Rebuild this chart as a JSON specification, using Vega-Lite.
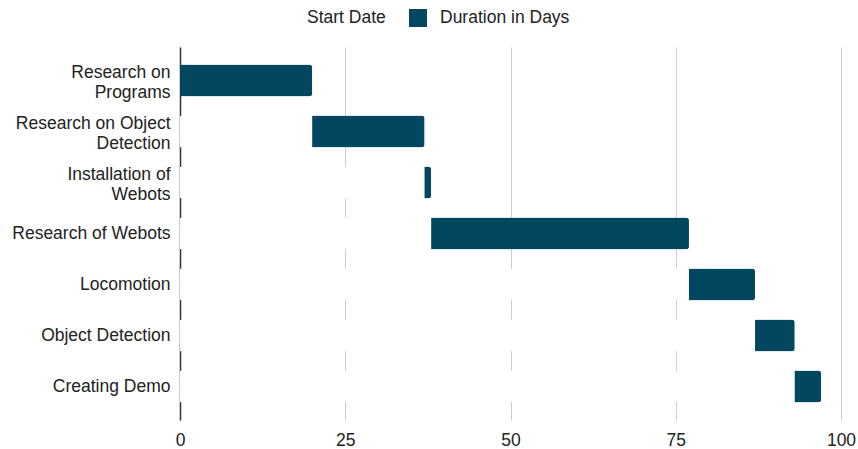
{
  "$schema": "https://vega.github.io/schema/vega-lite/v6.json",
  "autosize": {"type": "none"},
  "width": 661,
  "height": 373,
  "padding": {"left": 180, "top": 47, "right": 17, "bottom": 29},
  "background": "#ffffff",
  "config": {
    "font": "Liberation Sans",
    "view": {"stroke": null}
  },
  "data": {
    "values": [
      {"task": "Research on|Programs", "series": "Start Date", "k": 0, "days": 0},
      {"task": "Research on|Programs", "series": "Duration in Days", "k": 1, "days": 20},
      {"task": "Research on Object|Detection", "series": "Start Date", "k": 0, "days": 20},
      {"task": "Research on Object|Detection", "series": "Duration in Days", "k": 1, "days": 17},
      {"task": "Installation of|Webots", "series": "Start Date", "k": 0, "days": 37},
      {"task": "Installation of|Webots", "series": "Duration in Days", "k": 1, "days": 1},
      {"task": "Research of Webots", "series": "Start Date", "k": 0, "days": 38},
      {"task": "Research of Webots", "series": "Duration in Days", "k": 1, "days": 39},
      {"task": "Locomotion", "series": "Start Date", "k": 0, "days": 77},
      {"task": "Locomotion", "series": "Duration in Days", "k": 1, "days": 10},
      {"task": "Object Detection", "series": "Start Date", "k": 0, "days": 87},
      {"task": "Object Detection", "series": "Duration in Days", "k": 1, "days": 6},
      {"task": "Creating Demo", "series": "Start Date", "k": 0, "days": 93},
      {"task": "Creating Demo", "series": "Duration in Days", "k": 1, "days": 4}
    ]
  },
  "mark": {"type": "bar", "cornerRadiusEnd": 3},
  "encoding": {
    "y": {
      "field": "task",
      "type": "nominal",
      "sort": null,
      "scale": {"paddingInner": 0.373, "paddingOuter": 0.343},
      "axis": {
        "title": null,
        "ticks": false,
        "grid": false,
        "domain": true,
        "domainColor": "#333333",
        "domainWidth": 1.5,
        "labelExpr": "split(datum.label, '|')",
        "labelFontSize": 17.5,
        "labelColor": "#222222",
        "labelPadding": 10,
        "labelLineHeight": 20,
        "labelLimit": 220,
        "labelOffset": {"condition": {"test": "indexof(datum.value, '|') >= 0", "value": -7}, "value": 0}
      }
    },
    "x": {
      "field": "days",
      "type": "quantitative",
      "stack": "zero",
      "scale": {"domain": [0, 100], "nice": false},
      "axis": {
        "title": null,
        "values": [0, 25, 50, 75, 100],
        "domain": false,
        "ticks": false,
        "grid": true,
        "gridColor": "#cccccc",
        "gridWidth": 1,
        "labelFontSize": 17.5,
        "labelColor": "#222222",
        "labelPadding": 11,
        "labelFlush": false
      }
    },
    "color": {
      "field": "series",
      "type": "nominal",
      "scale": {"domain": ["Start Date", "Duration in Days"], "range": ["#ffffff", "#024660"]},
      "legend": {
        "title": null,
        "orient": "none",
        "direction": "horizontal",
        "legendX": 96,
        "legendY": -38,
        "symbolType": "square",
        "symbolSize": 324,
        "symbolStrokeWidth": 0,
        "symbolOpacity": 1,
        "labelFontSize": 17.5,
        "labelColor": "#222222",
        "labelOffset": 13,
        "columnPadding": 23
      }
    },
    "order": {"field": "k", "type": "quantitative"}
  }
}
